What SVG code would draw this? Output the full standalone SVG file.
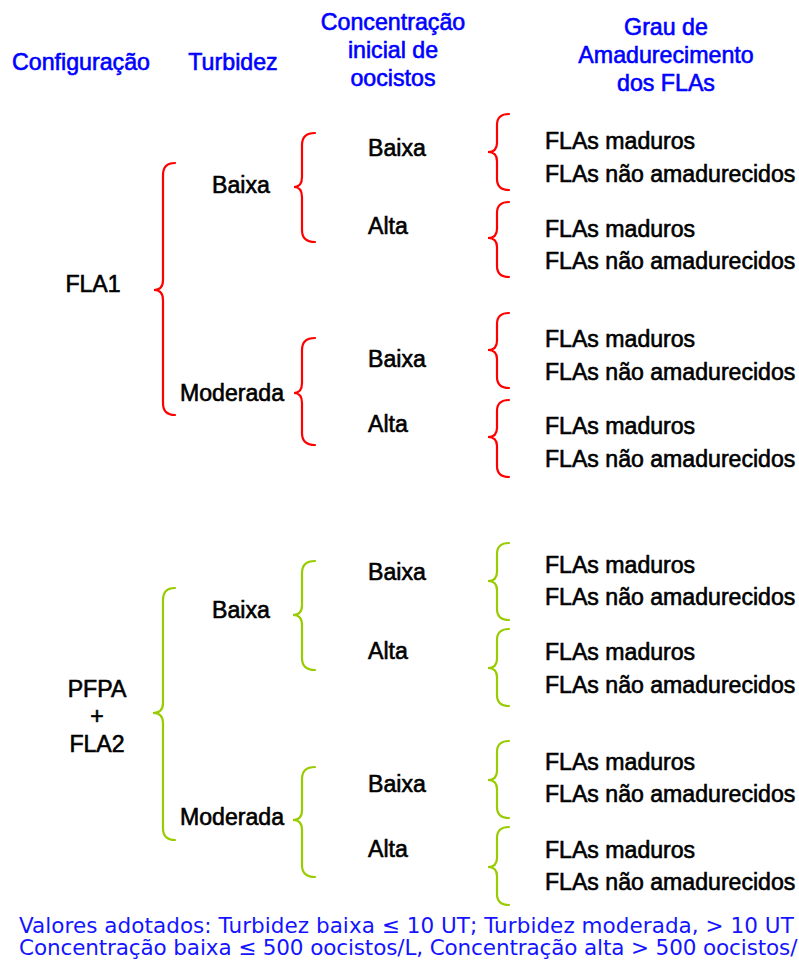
<svg xmlns="http://www.w3.org/2000/svg" width="799" height="962" viewBox="0 0 799 962">
<style>
.h{font-family:"Liberation Sans",Arial,sans-serif;font-size:23.2px;fill:#0000FF;stroke:#0000FF;stroke-width:0.6;text-anchor:middle}
.t{font-family:"Liberation Sans",Arial,sans-serif;font-size:23.1px;fill:#000;stroke:#000;stroke-width:0.6}
.c{text-anchor:middle}
.f{font-family:"DejaVu Sans",Verdana,sans-serif;font-size:21.5px;fill:#1414FF}
.r{fill:none;stroke:#FF0000;stroke-width:2.2;stroke-linecap:round}
.g{fill:none;stroke:#99CC00;stroke-width:2.2;stroke-linecap:round}
</style>
<rect width="799" height="962" fill="#fff"/>
<g id="headers">
<text class="h" x="81" y="70">Configuração</text>
<text class="h" x="233" y="70">Turbidez</text>
<text class="h" x="393" y="30">Concentração</text>
<text class="h" x="393" y="58">inicial de</text>
<text class="h" x="393" y="86">oocistos</text>
<text class="h" x="666" y="35">Grau de</text>
<text class="h" x="666" y="63">Amadurecimento</text>
<text class="h" x="666" y="91">dos FLAs</text>
</g>
<g id="connectors">
<path class="r" d="M175,163 Q163,163 163,175 L163,280 Q163,290 154,290 Q163,290 163,300 L163,403 Q163,415 175,415"/>
<path class="r" d="M315,133 Q302,133 302,145 L302,177 Q302,187 294,187 Q302,187 302,197 L302,230 Q302,242 315,242"/>
<path class="r" d="M315,338 Q302,338 302,350 L302,383 Q302,393 294,393 Q302,393 302,403 L302,433 Q302,445 315,445"/>
<path class="r" d="M509,114 Q497,114 497,125 L497,143 Q497,152 488,152 Q497,152 497,161 L497,179 Q497,190 509,190"/>
<path class="r" d="M509,202 Q497,202 497,213 L497,229 Q497,238 488,238 Q497,238 497,247 L497,266 Q497,277 509,277"/>
<path class="r" d="M509,313 Q497,313 497,324 L497,341 Q497,350 488,350 Q497,350 497,359 L497,377 Q497,388 509,388"/>
<path class="r" d="M509,400 Q497,400 497,411 L497,428 Q497,437 488,437 Q497,437 497,446 L497,466 Q497,477 509,477"/>
<path class="g" d="M175,588 Q163,588 163,600 L163,703 Q163,713 153,713 Q163,713 163,723 L163,828 Q163,840 175,840"/>
<path class="g" d="M315,561 Q302,561 302,573 L302,605 Q302,615 293,615 Q302,615 302,625 L302,658 Q302,670 315,670"/>
<path class="g" d="M315,767 Q302,767 302,779 L302,810 Q302,820 293,820 Q302,820 302,830 L302,865 Q302,877 315,877"/>
<path class="g" d="M509,543 Q497,543 497,554 L497,572 Q497,581 488,581 Q497,581 497,590 L497,609 Q497,620 509,620"/>
<path class="g" d="M509,629 Q497,629 497,640 L497,659 Q497,668 488,668 Q497,668 497,677 L497,695 Q497,706 509,706"/>
<path class="g" d="M509,741 Q497,741 497,752 L497,771 Q497,780 488,780 Q497,780 497,789 L497,807 Q497,818 509,818"/>
<path class="g" d="M509,827 Q497,827 497,838 L497,858 Q497,867 488,867 Q497,867 497,876 L497,894 Q497,905 509,905"/>
</g>
<g id="fla1"><text class="t c" x="93" y="292">FLA1</text></g>
<g id="fla1-baixa"><text class="t c" x="241" y="193">Baixa</text></g>
<g id="fla1-moderada"><text class="t c" x="232" y="401">Moderada</text></g>
<g id="fla1-baixa-baixa"><text class="t" x="368" y="156">Baixa</text></g>
<g id="fla1-baixa-alta"><text class="t" x="368" y="234">Alta</text></g>
<g id="fla1-moderada-baixa"><text class="t" x="368" y="367">Baixa</text></g>
<g id="fla1-moderada-alta"><text class="t" x="368" y="432">Alta</text></g>
<g id="fla1-r1"><text class="t" x="545" y="149">FLAs maduros</text><text class="t" x="545" y="182">FLAs não amadurecidos</text></g>
<g id="fla1-r2"><text class="t" x="545" y="237">FLAs maduros</text><text class="t" x="545" y="269">FLAs não amadurecidos</text></g>
<g id="fla1-r3"><text class="t" x="545" y="347">FLAs maduros</text><text class="t" x="545" y="380">FLAs não amadurecidos</text></g>
<g id="fla1-r4"><text class="t" x="545" y="434">FLAs maduros</text><text class="t" x="545" y="467">FLAs não amadurecidos</text></g>
<g id="pfpa"><text class="t c" x="97" y="697">PFPA</text><text class="t c" x="97" y="724">+</text><text class="t c" x="97" y="752">FLA2</text></g>
<g id="pfpa-baixa"><text class="t c" x="241" y="618">Baixa</text></g>
<g id="pfpa-moderada"><text class="t c" x="232" y="825">Moderada</text></g>
<g id="pfpa-baixa-baixa"><text class="t" x="368" y="580">Baixa</text></g>
<g id="pfpa-baixa-alta"><text class="t" x="368" y="659">Alta</text></g>
<g id="pfpa-moderada-baixa"><text class="t" x="368" y="792">Baixa</text></g>
<g id="pfpa-moderada-alta"><text class="t" x="368" y="857">Alta</text></g>
<g id="pfpa-r1"><text class="t" x="545" y="573">FLAs maduros</text><text class="t" x="545" y="605">FLAs não amadurecidos</text></g>
<g id="pfpa-r2"><text class="t" x="545" y="660">FLAs maduros</text><text class="t" x="545" y="693">FLAs não amadurecidos</text></g>
<g id="pfpa-r3"><text class="t" x="545" y="770">FLAs maduros</text><text class="t" x="545" y="802">FLAs não amadurecidos</text></g>
<g id="pfpa-r4"><text class="t" x="545" y="858">FLAs maduros</text><text class="t" x="545" y="890">FLAs não amadurecidos</text></g>
<g id="footer">
<text class="f" x="19" y="933" letter-spacing="0.05">Valores adotados: Turbidez baixa ≤ 10 UT; Turbidez moderada, &gt; 10 UT</text>
<text class="f" x="19" y="955" letter-spacing="-0.12">Concentração baixa ≤ 500 oocistos/L, Concentração alta &gt; 500 oocistos/L</text>
</g>
</svg>
